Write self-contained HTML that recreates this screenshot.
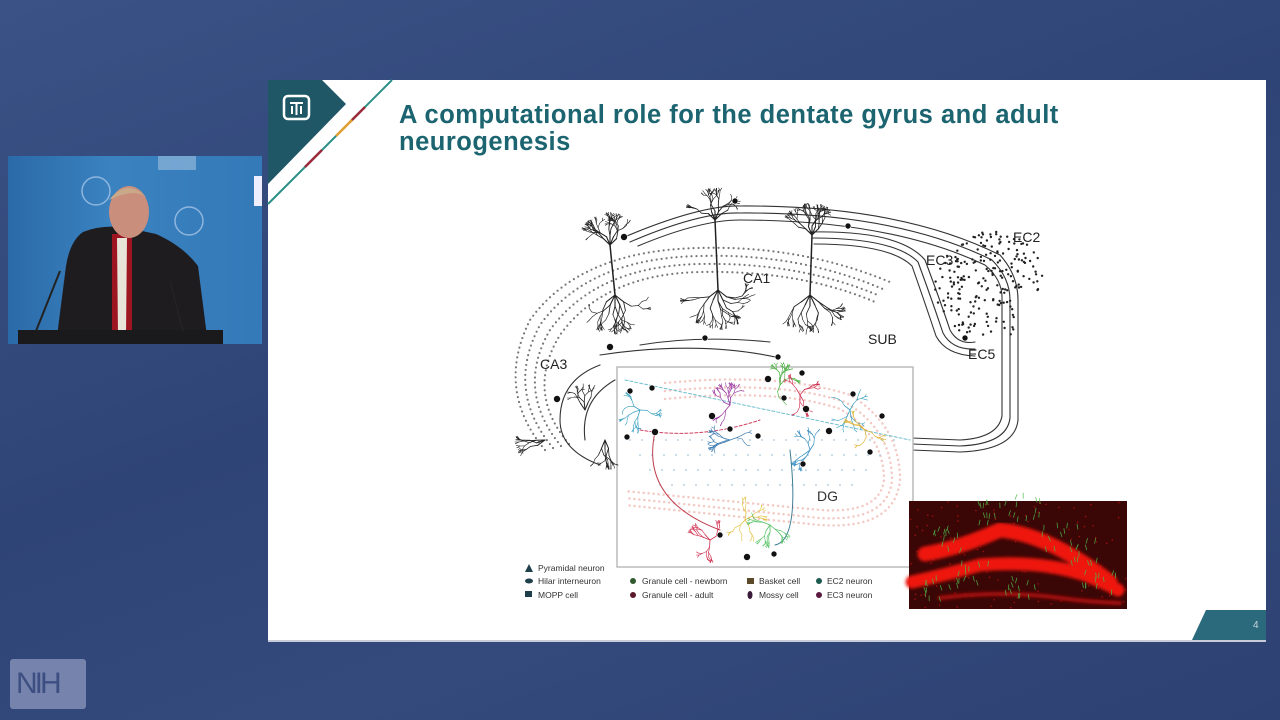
<!DOCTYPE html>
<html><head><meta charset="utf-8">
<style>
html,body{margin:0;padding:0;width:1280px;height:720px;overflow:hidden;background:#33467a;font-family:"Liberation Sans",sans-serif}
#bg{position:absolute;left:0;top:0;width:1280px;height:720px;background:linear-gradient(160deg,#3a5286 0%,#2f4476 45%,#344a7c 70%,#2d4172 100%)}
#slide{position:absolute;left:268px;top:80px;width:998px;height:560px;background:#fff;box-shadow:0 2px 0 #c8ccd8}
#video{position:absolute;left:8px;top:156px;width:254px;height:188px;background:linear-gradient(90deg,#2b6aa8,#3a82c0 40%,#3479b8);overflow:hidden}
h1{position:absolute;left:399px;top:102px;margin:0;font-size:25.5px;line-height:27px;color:#1b6470;font-weight:bold;letter-spacing:0.5px}
#nih{position:absolute;left:10px;top:659px;width:76px;height:50px;background:#7683ac;border-radius:3px;color:#3d4f82;font-size:30px;line-height:50px;text-indent:6px;letter-spacing:-3px}
</style></head><body>
<div id="bg"></div>
<div id="video">
 <svg width="254" height="188">
  <rect x="150" y="0" width="38" height="14" fill="#9fbfe0" opacity=".6"/>
  <circle cx="88" cy="35" r="14" fill="none" stroke="#8fb6de" stroke-width="1.5"/>
  <circle cx="181" cy="65" r="14" fill="none" stroke="#8fb6de" stroke-width="1.5"/>
  <path d="M75,76 Q95,68 120,72 L148,78 Q175,90 190,110 L200,188 L48,188 L58,110 Q62,85 75,76Z" fill="#1e1c1f"/>
  <path d="M104,78 L124,78 L124,188 L104,188Z" fill="#9c1520"/>
  <path d="M109,82 L119,82 L118,180 L110,180Z" fill="#e8e4d8"/>
  <ellipse cx="121" cy="56" rx="20" ry="26" fill="#c98f7c"/>
  <path d="M101,44 Q120,20 141,44 Q130,30 101,44Z" fill="#c9a98a"/>
  <rect x="10" y="174" width="205" height="14" fill="#1a1a1c"/>
  <line x1="28" y1="175" x2="52" y2="115" stroke="#222" stroke-width="2"/>
  <line x1="175" y1="175" x2="162" y2="125" stroke="#222" stroke-width="2"/>
  <rect x="246" y="20" width="8" height="30" fill="#eef"/>
 </svg>
</div>
<div id="slide"></div>
<svg style="position:absolute;left:0;top:0" width="1280" height="720">
 <polygon points="268,80 322,80 346,104 268,184" fill="#1f5767"/>
 <rect x="284" y="96" width="25" height="23" rx="4" fill="none" stroke="#fff" stroke-width="2.5"/>
 <path d="M290,103 h13 M296.5,103 v12 M292,106 v8 M301,106 v8" stroke="#fff" stroke-width="2" fill="none"/>
 <line x1="392" y1="80" x2="268" y2="204" stroke="#2a8f87" stroke-width="2"/>
 <line x1="365" y1="107" x2="350" y2="122" stroke="#9c2b3a" stroke-width="2.5"/>
 <line x1="352" y1="120" x2="336" y2="136" stroke="#e0a030" stroke-width="2.5"/>
 <line x1="322" y1="150" x2="305" y2="167" stroke="#9c2b3a" stroke-width="2.5"/>
 <polygon points="1206,610 1266,610 1266,640 1192,640" fill="#2a6a7c"/>
 <text x="1253" y="628" font-size="10" fill="#c9d6dd">4</text>
</svg>
<h1>A computational role for the dentate gyrus and adult<br>neurogenesis</h1>
<svg id="dia" style="position:absolute;left:0;top:0" width="1280" height="720">
 <defs><filter id="bl"><feGaussianBlur stdDeviation="1.5"/></filter></defs>
 <g fill="none" stroke-linecap="round">
  <g stroke="#777" stroke-width="2.2" stroke-dasharray="0 5">
   <path d="M545,450 Q495,390 530,320 Q580,250 700,248 Q800,245 890,282"/>
   <path d="M553,448 Q505,390 540,325 Q588,258 700,256 Q800,253 885,290"/>
   <path d="M561,446 Q515,390 550,330 Q596,266 700,264 Q800,262 880,296"/>
   <path d="M569,444 Q525,392 560,335 Q604,274 700,272 Q800,270 875,302"/>
  </g>
  <g stroke="#333" stroke-width="1.1">
   <path d="M622,238 Q700,205 740,206 Q900,205 1000,255 Q1018,275 1018,300 L1018,420 Q1015,450 960,452 L912,450"/>
   <path d="M630,242 Q700,212 740,213 Q895,212 992,260 Q1010,278 1010,300 L1010,418 Q1007,444 960,446 L912,444"/>
   <path d="M638,246 Q700,220 740,220 Q890,220 985,265 Q1003,280 1002,300 L1002,416 Q998,438 960,440 L912,438"/>
   <path d="M810,232 Q900,230 925,260 Q940,300 950,330 Q958,345 975,342"/>
   <path d="M812,238 Q895,238 918,262 Q932,300 943,333 Q952,350 975,349"/>
   <path d="M814,244 Q890,244 912,266 Q924,300 936,336 Q946,355 975,356"/>
   <path d="M640,345 Q700,335 770,342"/>
   <path d="M600,365 Q560,380 560,420 Q560,450 600,465"/>
   <path d="M600,355 Q700,340 780,358"/>
   <path d="M615,380 Q580,400 585,440"/>
  </g>
  <g id="ec"></g>
  <rect x="617" y="367" width="296" height="200" fill="#fff" stroke="#bbb" stroke-width="1.5"/>
  <g stroke="#f3c9c4" stroke-width="2.5" stroke-dasharray="0 5">
   <path d="M665,383 Q780,372 850,395 Q900,425 900,480 Q895,530 820,525 L625,505"/>
   <path d="M665,391 Q780,380 845,402 Q892,430 892,480 Q888,522 820,518 L625,498"/>
   <path d="M665,399 Q780,388 840,409 Q884,435 884,480 Q880,514 820,510 L625,491"/>
  </g>
  <g stroke="#b9d3e3" stroke-width="2" stroke-dasharray="0 12">
   <path d="M630,440 L900,440"/><path d="M640,455 L890,455"/><path d="M650,470 L870,470"/><path d="M660,485 L860,485"/>
  </g>
  <path d="M640,430 Q700,440 760,420" stroke="#d04060" stroke-width="1" stroke-dasharray="3 2"/>
  <path d="M655,432 Q640,500 720,530" stroke="#c04050" stroke-width="1"/>
  <path d="M790,450 Q800,540 775,545" stroke="#3a7a90" stroke-width="1"/>
  <path d="M625,380 L910,440" stroke="#70c0d0" stroke-width="1" stroke-dasharray="3 2"/>
  <g id="trees"></g>
 </g>
 <g font-size="14" fill="#222">
  <text x="743" y="283">CA1</text><text x="868" y="344">SUB</text><text x="540" y="369">CA3</text>
  <text x="926" y="265">EC3</text><text x="1013" y="242">EC2</text><text x="968" y="359">EC5</text>
  <text x="817" y="501" fill="#333">DG</text>
 </g>
 <g id="dots"></g>
 <rect x="909" y="501" width="218" height="108" fill="#3a0606"/>
 <g fill="none" stroke-linecap="round">
  <g id="rs" fill="#a01010"></g>
  <g filter="url(#bl)">
  <path d="M925,554 Q960,548 1000,530 Q1050,535 1110,582" stroke="#ee1410" stroke-width="15"/>
  <path d="M912,582 Q945,575 980,565 Q1040,560 1085,575 Q1105,583 1118,590" stroke="#ee1410" stroke-width="13"/>
  <path d="M940,598 Q1000,590 1060,598 Q1090,602 1120,603" stroke="#b0100c" stroke-width="4"/>
  </g>
  <g stroke="#4fb848" stroke-width="0.8" opacity=".85" id="gr"></g>
 </g>
 <g font-size="8.5" fill="#333">
  <polygon points="525,572 529,564 533,572" fill="#1f3f4a"/><text x="538" y="571">Pyramidal neuron</text>
  <ellipse cx="529" cy="581" rx="4" ry="2.5" fill="#1f3f4a"/><text x="538" y="584">Hilar interneuron</text>
  <rect x="525" y="591" width="7" height="6" fill="#1f3f4a"/><text x="538" y="598">MOPP cell</text>
  <circle cx="633" cy="581" r="3" fill="#2f5a2f"/><text x="642" y="584">Granule cell - newborn</text>
  <circle cx="633" cy="595" r="3" fill="#5a1a2a"/><text x="642" y="598">Granule cell - adult</text>
  <rect x="747" y="578" width="7" height="6" fill="#5a4a2a"/><text x="759" y="584">Basket cell</text>
  <ellipse cx="750" cy="595" rx="2.5" ry="4" fill="#3a1a3a"/><text x="759" y="598">Mossy cell</text>
  <circle cx="819" cy="581" r="3" fill="#1f5a50"/><text x="827" y="584">EC2 neuron</text>
  <circle cx="819" cy="595" r="3" fill="#5a1a40"/><text x="827" y="598">EC3 neuron</text>
 </g>
</svg>
<div id="nih">NIH</div>
<script>
var s=7;function r(){s=(s*9301+49297)%233280;return s/233280;}
var t=document.getElementById('trees'),h='';
function tree(x,y,a,len,d,col,w){if(d==0)return;var x2=x+Math.cos(a)*len,y2=y+Math.sin(a)*len;
h+='<line x1="'+x.toFixed(1)+'" y1="'+y.toFixed(1)+'" x2="'+x2.toFixed(1)+'" y2="'+y2.toFixed(1)+'" stroke="'+col+'" stroke-width="'+w+'"/>';
var n=(r()<0.55?2:1);for(var i=0;i<n;i++)tree(x2,y2,a+(r()-0.5)*1.5,len*0.8,d-1,col,Math.max(0.6,w*0.8));}
var up=-Math.PI/2,dn=Math.PI/2;
[[615,295,610,245],[718,290,715,220],[810,295,812,235]].forEach(function(p){
 h+='<line x1="'+p[0]+'" y1="'+p[1]+'" x2="'+p[2]+'" y2="'+p[3]+'" stroke="#222" stroke-width="1.5"/>';
 for(var k=-2;k<=2;k++)tree(p[2],p[3],up+k*0.4,9,6,'#222',1.1);
 for(var k=-2;k<=2;k++)tree(p[0],p[1],dn+k*0.45,11,6,'#222',1.1);});
for(var k=0;k<3;k++){tree(545,440,Math.PI*0.8+k*0.3,9,5,'#222',1);tree(585,410,up-0.6+k*0.5,8,5,'#222',1);tree(605,440,dn-0.4+k*0.4,9,5,'#222',1);}
[[640,410,'#3aa0c0'],[730,405,'#9a3aa0'],[730,440,'#3a7ab0'],[780,385,'#4ab040'],[800,395,'#d03050'],[850,410,'#3aa0c0'],[865,430,'#e0b030'],[810,450,'#3a90c0'],[710,540,'#d03050'],[745,520,'#e0c040'],[770,525,'#50c060']].forEach(function(p){
 for(var k=0;k<4;k++)tree(p[0],p[1],r()*6.28,7,5,p[2],0.8);});
t.innerHTML=h;
var e='',c=0;while(c<210){var x=935+r()*112,y=230+r()*112;
 var dx=(x-990)/55,dy=(y-285)/55; if(dx*dx+dy*dy>1)continue; if(x>1015&&y>290)continue; if(x<950&&y<255)continue;
 c++; e+='<circle cx="'+x.toFixed(1)+'" cy="'+y.toFixed(1)+'" r="1.2" fill="#222" stroke="none"/>';}
document.getElementById('ec').innerHTML=e;
var d='';[[624,237],[735,201],[848,226],[610,347],[705,338],[778,357],[557,399],[630,391],[652,388],[712,416],[730,429],[758,436],[768,379],[802,373],[784,398],[806,409],[853,394],[882,416],[829,431],[870,452],[627,437],[655,432],[803,464],[720,535],[747,557],[774,554],[965,338]].forEach(function(p,i){d+='<circle cx="'+p[0]+'" cy="'+p[1]+'" r="'+(i%3==0?3.5:3)+'" fill="#111" stroke="#fff" stroke-width="0.6"/>';});
document.getElementById('dots').innerHTML=d;
var rs='';for(var i=0;i<120;i++){rs+='<circle cx="'+(910+r()*216).toFixed(1)+'" cy="'+(502+r()*106).toFixed(1)+'" r="0.8" stroke="none"/>';}
document.getElementById('rs').innerHTML=rs;
var g='';var cl=[[945,540],[990,515],[1025,510],[1060,540],[1080,555],[940,590],[1020,590],[1100,585],[975,575]];
for(var i=0;i<110;i++){var q=cl[i%cl.length];var x=q[0]+(r()-0.5)*36,y=q[1]+(r()-0.5)*26,a=-Math.PI/2+(r()-0.5)*0.8;g+='<line x1="'+x.toFixed(1)+'" y1="'+y.toFixed(1)+'" x2="'+(x+Math.cos(a)*5).toFixed(1)+'" y2="'+(y+Math.sin(a)*5).toFixed(1)+'"/>';}
document.getElementById('gr').innerHTML=g;
</script>
</body></html>
